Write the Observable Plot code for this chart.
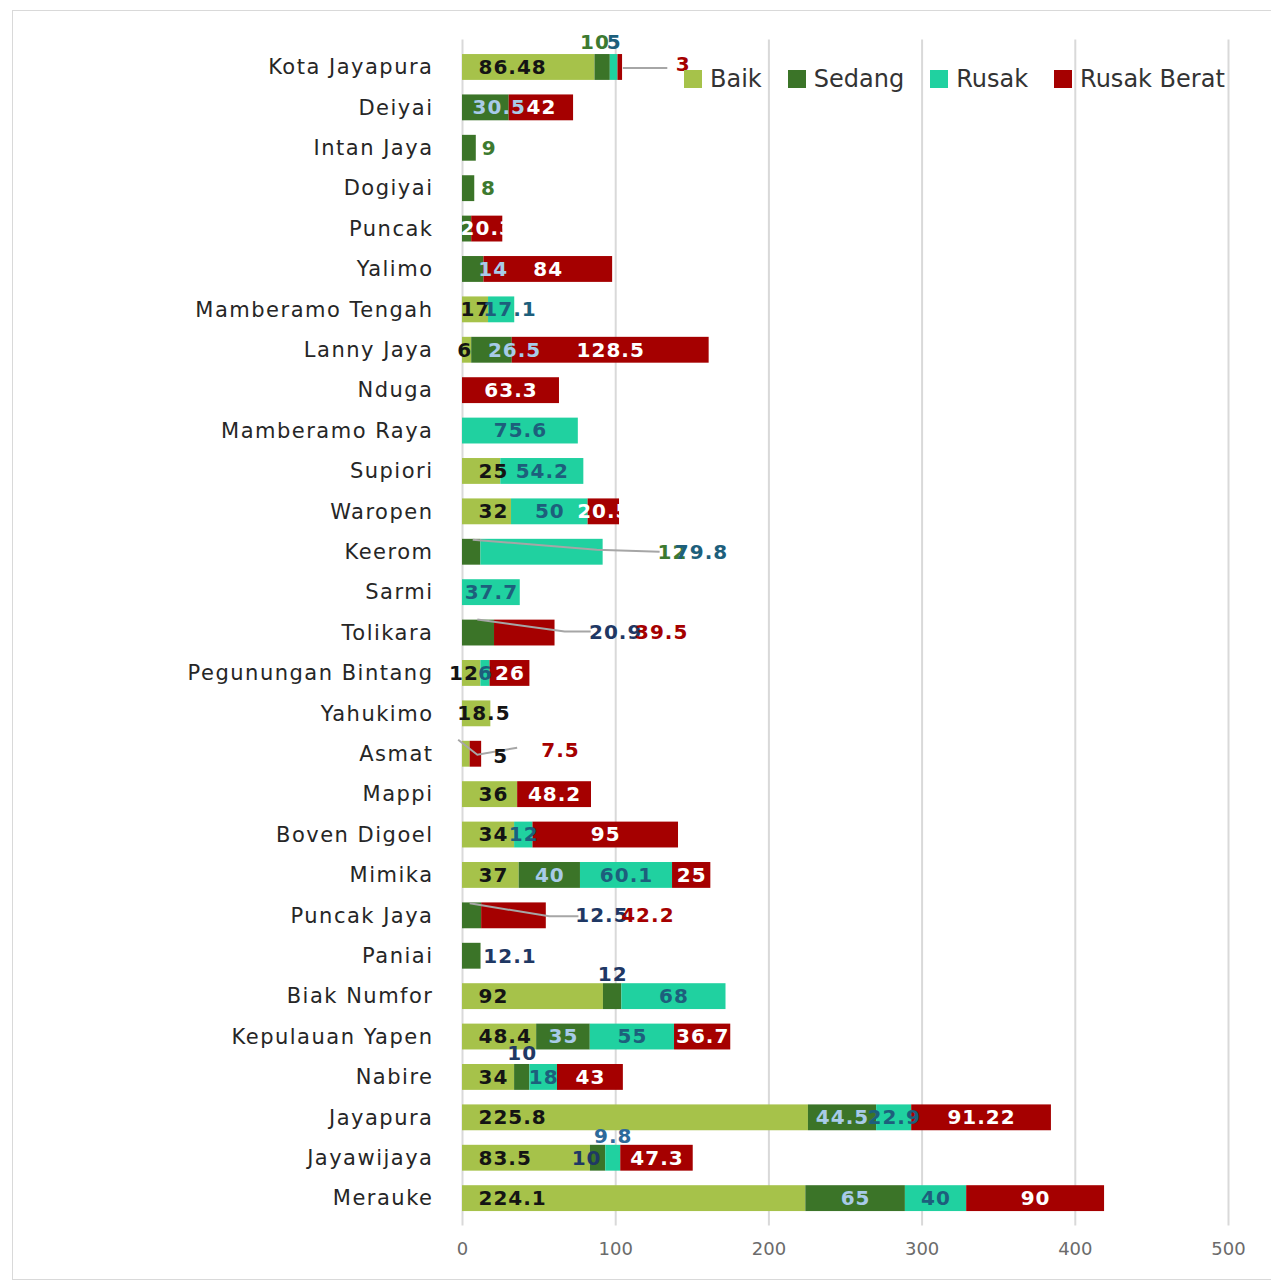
<!DOCTYPE html>
<html>
<head>
<meta charset="utf-8">
<script src="https://cdn.jsdelivr.net/npm/d3@7"></script>
<script src="https://cdn.jsdelivr.net/npm/@observablehq/plot@0.6"></script>
<style>
  body { margin: 0; background: #fff; }
  #wrap { position: relative; width: 1271px; height: 1286px; overflow: hidden; background: #fff; }
  #frame { position: absolute; left: 12px; top: 10px; width: 1300px; height: 1270px; border: 1.5px solid #d9d9d9; box-sizing: border-box; pointer-events: none; }
  #chart { position: absolute; left: 0; top: 0; }
  #legend { position: absolute; left: 684px; top: 65px; display: flex; align-items: center; font-family: "DejaVu Sans", sans-serif; font-size: 24px; color: #333; line-height: 28px; }
  #legend .item { display: flex; align-items: center; margin-right: 26px; }
  #legend .sw { width: 18px; height: 18px; margin-right: 8px; }
  svg [aria-label^="y-axis"] text { font-size: 21px; letter-spacing: 1.5px; fill: #262626; }
  svg [aria-label^="x-axis"] text { font-size: 18px; fill: #6b6b6b; }
  svg [aria-label="text"] text { letter-spacing: 1px; }
</style>
</head>
<body>
<div id="wrap">
  <div id="chart"></div>
  <div id="legend"></div>
  <div id="frame"></div>
</div>
<script>
// ---------- data ----------
const categories = [
  "Kota Jayapura", "Deiyai", "Intan Jaya", "Dogiyai", "Puncak", "Yalimo",
  "Mamberamo Tengah", "Lanny Jaya", "Nduga", "Mamberamo Raya", "Supiori",
  "Waropen", "Keerom", "Sarmi", "Tolikara", "Pegunungan Bintang", "Yahukimo",
  "Asmat", "Mappi", "Boven Digoel", "Mimika", "Puncak Jaya", "Paniai",
  "Biak Numfor", "Kepulauan Yapen", "Nabire", "Jayapura", "Jayawijaya", "Merauke"
];
const seriesNames = ["Baik", "Sedang", "Rusak", "Rusak Berat"];
const baik       = [86.48, 0, 0, 0, 0, 0, 17, 6, 0, 0, 25, 32, 0, 0, 0, 12, 18.5, 5, 36, 34, 37, 0, 0, 92, 48.4, 34, 225.8, 83.5, 224.1];
const sedang     = [10, 30.5, 9, 8, 6, 14, 0, 26.5, 0, 0, 0, 0, 12, 0, 20.9, 0, 0, 0, 0, 0, 40, 12.5, 12.1, 12, 35, 10, 44.5, 10, 65];
const rusak      = [5, 0, 0, 0, 0, 0, 17.1, 0, 0, 75.6, 54.2, 50, 79.8, 37.7, 0, 6, 0, 0, 0, 12, 60.1, 0, 0, 68, 55, 18, 22.9, 9.8, 40];
const rusakBerat = [3, 42, 0, 0, 20.3, 84, 0, 128.5, 63.3, 0, 0, 20.5, 0, 0, 39.5, 26, 0, 7.5, 48.2, 95, 25, 42.2, 0, 0, 36.7, 43, 91.22, 47.3, 90];
const xTicks = [0, 100, 200, 300, 400, 500];
const hiddenLabels = [["Puncak", "Sedang"]];

// ---------- styles ----------
const seriesColors = ["#a6c24a", "#3b7428", "#20d1a0", "#a50000"];
const labelColors = ["#141414", "#a8cbe8", "#1d5f7c", "#ffffff"];
const extraColors = { green: "#3d7a30", teal: "#1d5f7c", red: "#a50000", navy: "#1f3864", blue: "#2e6a9a" };

// annotation layout: [category, series, x in data units (null = default), dy px, colour key, anchor]
const labelOverrides = [
  ["Kota Jayapura", "Sedang", 86.5, -25, "green"],
  ["Kota Jayapura", "Rusak", null, -25, "teal"],
  ["Kota Jayapura", "Rusak Berat", 144, -3, "red"],
  ["Deiyai", "Sedang", 24, 0, null],
  ["Intan Jaya", "Sedang", 17.5, 0, "green"],
  ["Dogiyai", "Sedang", 17, 0, "green"],
  ["Yalimo", "Sedang", 20, 0, null],
  ["Mamberamo Tengah", "Baik", 8.5, 0, null, "middle"],
  ["Mamberamo Tengah", "Rusak", 31, 0, null],
  ["Lanny Jaya", "Baik", 1.5, 0, null, "middle"],
  ["Lanny Jaya", "Sedang", 34, 0, null],
  ["Keerom", "Sedang", 137, 0, "green"],
  ["Keerom", "Rusak", 156, 0, "teal"],
  ["Tolikara", "Sedang", 100, 0, "navy"],
  ["Tolikara", "Rusak Berat", 130, 0, "red"],
  ["Pegunungan Bintang", "Baik", 1, 0, null, "middle"],
  ["Yahukimo", "Baik", 14, 0, null, "middle"],
  ["Asmat", "Baik", 25, 2, null, "middle"],
  ["Asmat", "Rusak Berat", 64, -4, "red"],
  ["Puncak Jaya", "Sedang", 91, 0, "navy"],
  ["Puncak Jaya", "Rusak Berat", 121, 0, "red"],
  ["Paniai", "Sedang", 31, 0, "navy"],
  ["Biak Numfor", "Sedang", null, -22, "navy"],
  ["Nabire", "Sedang", null, -24, "navy"],
  ["Jayawijaya", "Sedang", 81, 0, "navy"],
  ["Jayawijaya", "Rusak", null, -22, "blue"]
];
// leader lines: [category, [[x data, dy px], ...]]
const leaders = [
  ["Kota Jayapura", [[105, 1], [134, 1]]],
  ["Keerom", [[7, -12], [88, -2], [129, 0]]],
  ["Tolikara", [[10, -13], [67, -1], [84, -1]]],
  ["Asmat", [[-2.5, -14], [10, 1], [36, -6]]],
  ["Puncak Jaya", [[5, -12], [57, 1], [76, 1]]]
];

// ---------- build tables ----------
const seriesValues = [baik, sedang, rusak, rusakBerat];
const rows = [];
categories.forEach((c, i) => {
  seriesNames.forEach((s, j) => {
    const v = seriesValues[j][i];
    if (v > 0) rows.push({ cat: c, series: s, value: v });
  });
});

const labels = [];
seriesNames.forEach((s, j) => {
  categories.forEach((c, i) => {
    const v = seriesValues[j][i];
    if (!(v > 0)) return;
    if (hiddenLabels.some(h => h[0] === c && h[1] === s)) return;
    let start = 0;
    for (let k = 0; k < j; k++) start += seriesValues[k][i];
    let lab = {
      cat: c, text: String(v),
      x: j === 0 ? 0 : start + v / 2,
      dx: j === 0 ? 16 : 0,
      anchor: j === 0 ? "start" : "middle",
      dy: 0, color: labelColors[j]
    };
    const o = labelOverrides.find(o => o[0] === c && o[1] === s);
    if (o) {
      if (o[2] != null) { lab.x = o[2]; if (j === 0) { lab.dx = 0; } }
      lab.dy = o[3];
      if (o[4]) lab.color = extraColors[o[4]];
      if (o[5]) lab.anchor = o[5];
    }
    labels.push(lab);
  });
});

// group labels by constant styling
const groups = new Map();
for (const l of labels) {
  const key = [l.color, l.anchor, l.dy, l.dx].join("|");
  if (!groups.has(key)) groups.set(key, []);
  groups.get(key).push(l);
}
const textMarks = [...groups.values()].map(g => Plot.text(g, {
  x: "x", y: "cat", text: "text",
  fill: g[0].color, textAnchor: g[0].anchor, dy: g[0].dy, dx: g[0].dx,
  fontSize: 20, fontWeight: "bold", fontFamily: "DejaVu Sans"
}));

const plot = Plot.plot({
  width: 1271,
  height: 1286,
  marginLeft: 462,
  marginRight: 43,
  marginTop: 39.5,
  marginBottom: 60.4,
  style: { fontFamily: "DejaVu Sans", fontSize: "18px", background: "transparent", overflow: "visible" },
  x: { domain: [0, 500], ticks: xTicks, tickSize: 0, tickPadding: 16, label: null, tickFormat: d => String(d) },
  y: { domain: categories, padding: 0.36, round: false, tickSize: 0, tickPadding: 29, label: null },
  color: { domain: seriesNames, range: seriesColors },
  marks: [
    Plot.ruleX(xTicks, { x: d => d, stroke: "#d9d9d9", strokeWidth: 2 }),
    Plot.barX(rows, { x: "value", y: "cat", fill: "series" }),
    ...textMarks
  ]
});
document.getElementById("chart").appendChild(plot);

// leader lines through the plot's own scales
const sx = plot.scale("x"), sy = plot.scale("y");
const svg = d3.select(plot.tagName.toLowerCase() === "svg" ? plot : plot.querySelector("svg"));
const lineGen = d3.line();
const leaderG = svg.insert("g", "g[aria-label='text']").attr("aria-label", "leaders");
for (const [cat, pts] of leaders) {
  const cy = sy.apply(cat) + sy.bandwidth / 2;
  leaderG.append("path")
    .attr("d", lineGen(pts.map(([x, dy]) => [sx.apply(x), cy + dy])))
    .attr("fill", "none").attr("stroke", "#a6a6a6").attr("stroke-width", 2);
}

// legend
const legend = d3.select("#legend");
seriesNames.forEach((s, i) => {
  const it = legend.append("div").attr("class", "item");
  it.append("div").attr("class", "sw").style("background", seriesColors[i]);
  it.append("span").text(s);
});
</script>
</body>
</html>
